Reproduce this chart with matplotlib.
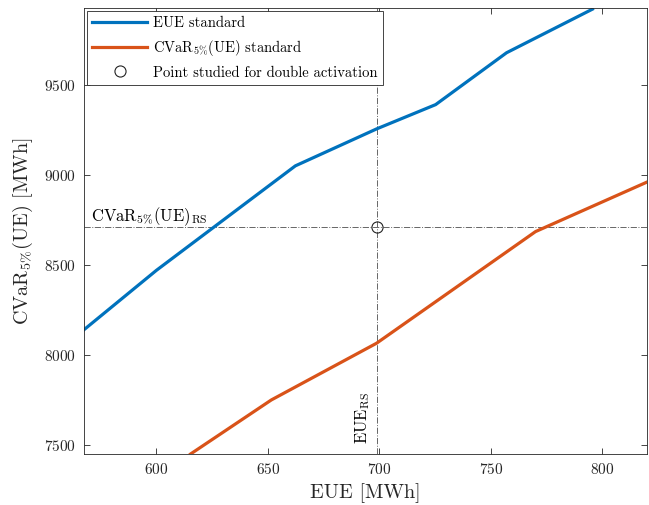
import matplotlib
matplotlib.use('Agg')
import matplotlib.pyplot as plt

plt.rcParams['font.family'] = 'serif'
plt.rcParams['font.serif'] = ['cmr10']
plt.rcParams['mathtext.fontset'] = 'cm'
plt.rcParams['axes.formatter.use_mathtext'] = True

# EUE standard curve
eue_x = [567.5, 600, 662.3, 698.7, 725.2, 757, 795.5]
eue_y = [8140, 8470, 9050, 9255, 9390, 9678, 9920]

# CVaR standard curve
cvar_x = [615.3, 651.5, 698.7, 770, 820]
cvar_y = [7450, 7750, 8065, 8685, 8960]

# studied point
pt_x = 698.7
pt_y = 8711

xticks = [600, 650, 700, 750, 800]
yticks = [7500, 8000, 8500, 9000, 9500]

fig = plt.figure(figsize=(6.49, 5.05), dpi=100)
ax = fig.add_axes([0.1294, 0.101, 0.8676, 0.883])

ax.axvline(pt_x, color='#666666', ls='-.', lw=0.7)
ax.axhline(pt_y, color='#666666', ls='-.', lw=0.7)

ax.plot(eue_x, eue_y, color='#0072BD', lw=2.3, label='EUE standard')
ax.plot(cvar_x, cvar_y, color='#D95319', lw=2.3,
        label=r'CVaR$_{5\%}$(UE) standard')
ax.plot(pt_x, pt_y, 'o', mfc='none', mec='#222222', ms=8, mew=0.8,
        label='Point studied for double activation')

ax.text(570.5, 8745, r'CVaR$_{5\%}$(UE)$_{\mathrm{RS}}$', fontsize=12)
ax.text(696.5, 7505, r'EUE$_{\mathrm{RS}}$', fontsize=12, rotation=90,
        ha='right', va='bottom')

ax.set_xlim(567.5, 820)
ax.set_ylim(7450, 9926)
ax.set_xticks(xticks)
ax.set_yticks(yticks)
ax.tick_params(direction='in', top=True, right=True, labelsize=11,
               length=4, width=0.6, colors='#262626', pad=6)
for s in ax.spines.values():
    s.set_linewidth(0.6)
    s.set_color('#262626')

ax.set_xlabel('EUE [MWh]', fontsize=14.5, color='#262626', labelpad=4)
ax.set_ylabel(r'CVaR$_{5\%}$(UE) [MWh]', fontsize=14.5, color='#262626',
              labelpad=6)

leg = ax.legend(loc='upper left', fontsize=10.5, fancybox=False,
                edgecolor='#262626', framealpha=1, borderpad=0.35,
                handlelength=3.8, handletextpad=0.4, labelspacing=0.55,
                borderaxespad=0.2)
leg.get_frame().set_linewidth(0.6)

fig.savefig('out.png', dpi=100)
